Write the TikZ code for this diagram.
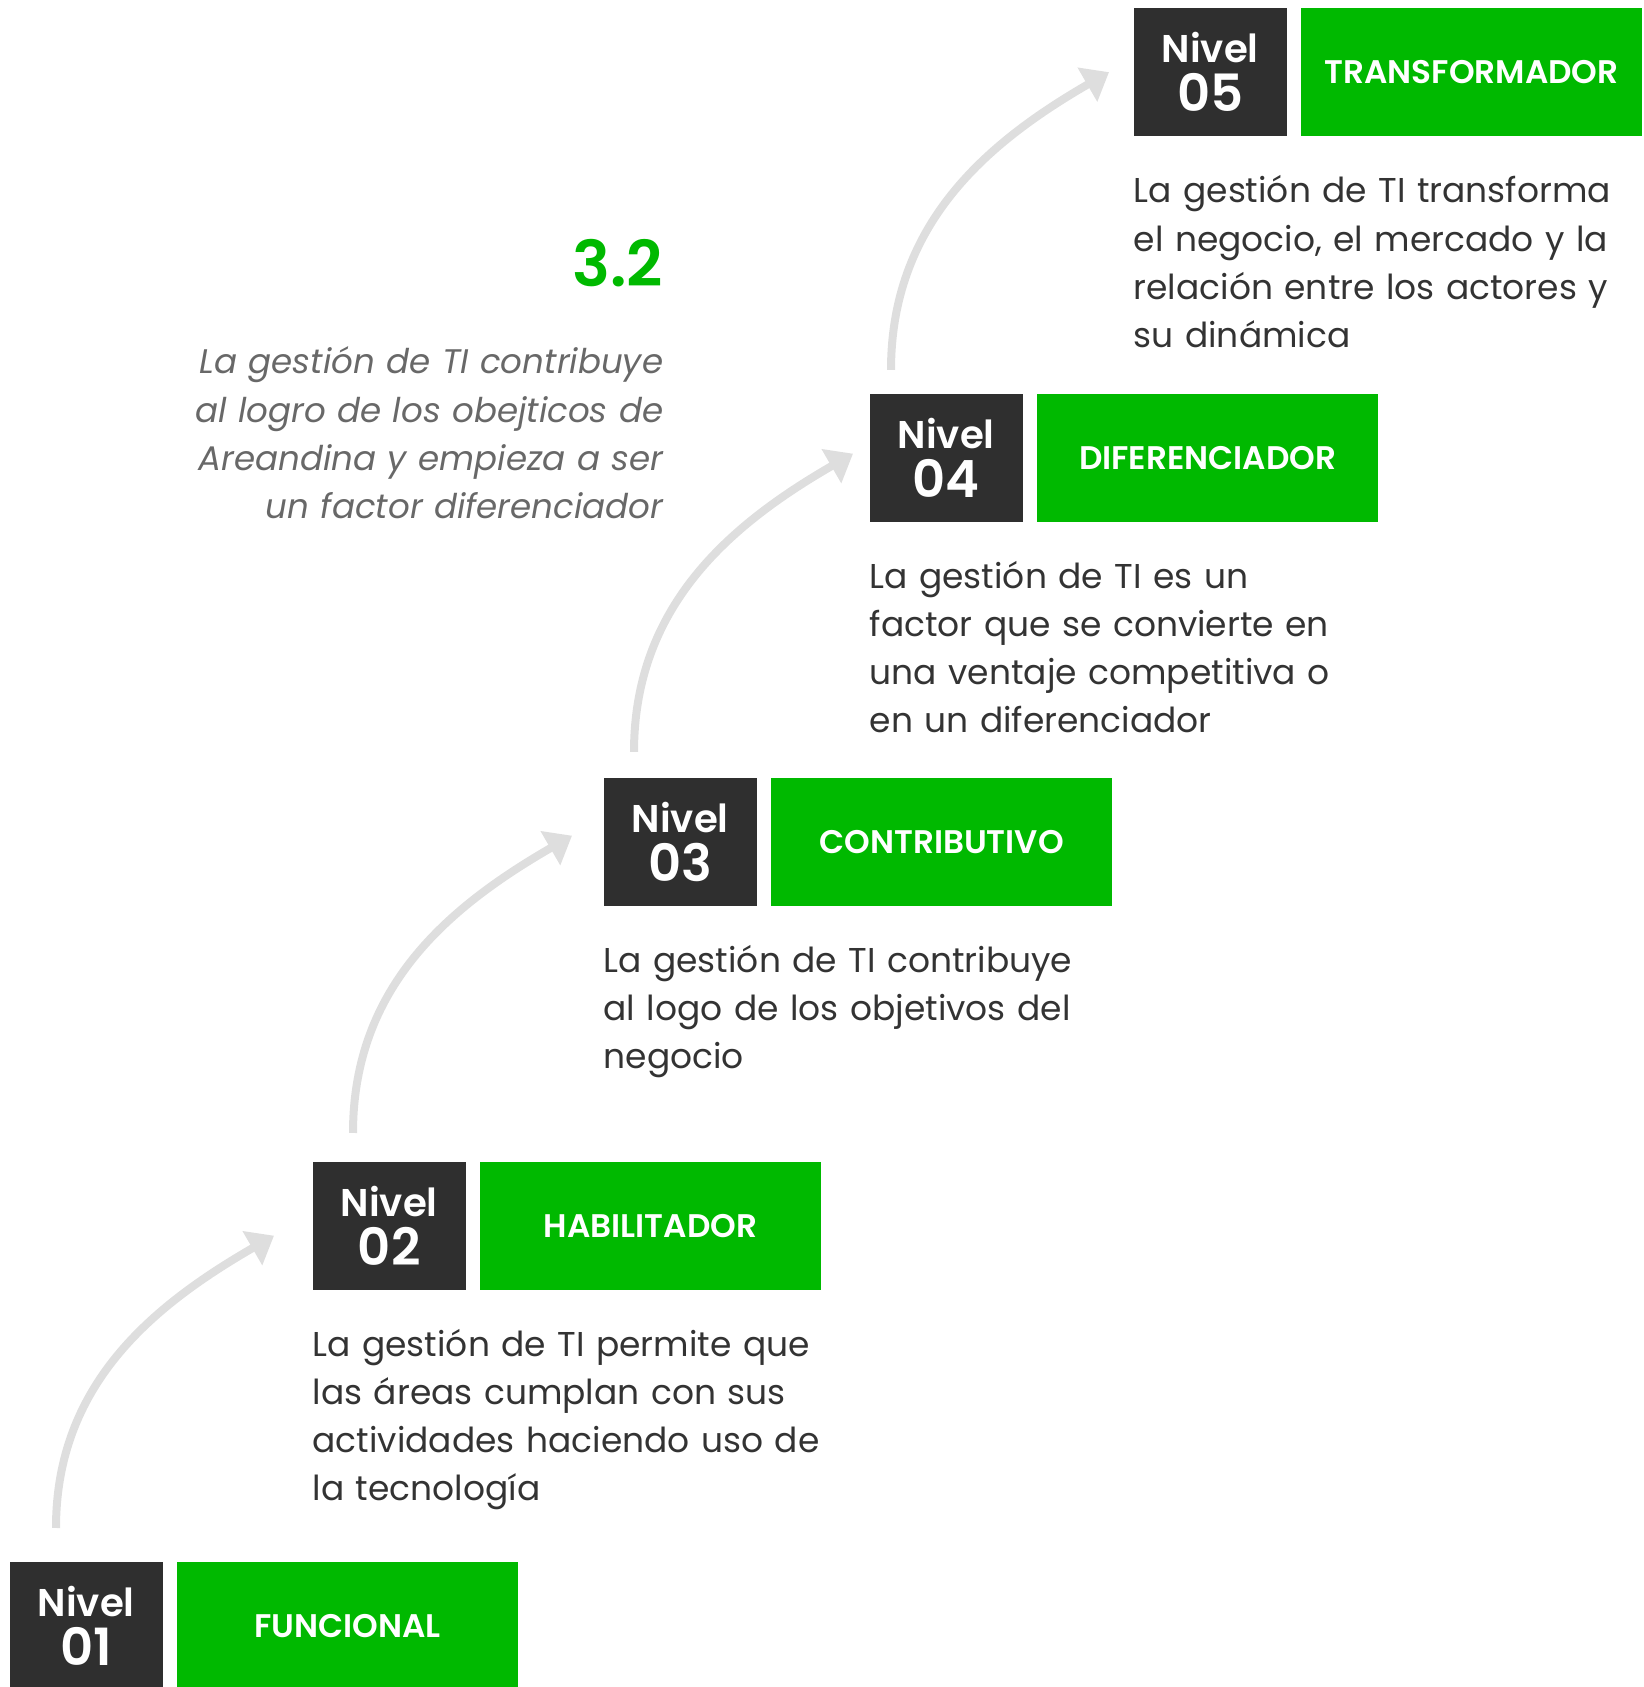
\documentclass[tikz,border=0pt]{standalone}
\usepackage{fontspec}
\setmainfont{Poppins}
\newfontfamily\medio{Poppins SemiBold}
\usepackage{tikz}
\usetikzlibrary{arrows.meta,positioning}
\definecolor{verde}{RGB}{0,185,0}
\definecolor{oscuro}{RGB}{47,47,47}
\definecolor{texto}{RGB}{51,51,51}
\definecolor{gris}{RGB}{104,104,104}
\definecolor{flechagris}{RGB}{222,222,222}

\begin{document}
\begin{tikzpicture}[>={Triangle[length=0.25cm,width=0.38cm]},
  nivel/.style={fill=oscuro,text=white,minimum width=1.53cm,minimum height=1.28cm,inner sep=0pt,anchor=north west,align=center,font=\medio\fontsize{11}{14}\selectfont},
  etapa/.style={fill=verde,text=white,minimum width=3.41cm,minimum height=1.28cm,inner sep=0pt,font=\medio\fontsize{9.3}{11}\selectfont},
  desc/.style={text=texto,anchor=base west,inner sep=0pt,text width=6cm,align=left,font=\fontsize{9.8}{13.7}\selectfont},
  flecha/.style={->,draw=flechagris,line width=0.08cm}]
\useasboundingbox (0,0) rectangle (16.43,16.87);

\node[nivel] (n1) at (0.09,1.26) {Nivel\\{\fontsize{14.6}{14}\selectfont 01}};
\node[etapa,right=0.13cm of n1] (e1) {FUNCIONAL};

\node[nivel] (n2) at (3.12,5.26) {Nivel\\{\fontsize{14.6}{14}\selectfont 02}};
\node[etapa,right=0.13cm of n2] (e2) {HABILITADOR};
\node[desc] (d2) at ([yshift=-0.66cm]n2.south west) {La gestión de TI permite que\\las áreas cumplan con sus\\actividades haciendo uso de\\la tecnología};

\node[nivel] (n3) at (6.03,9.10) {Nivel\\{\fontsize{14.6}{14}\selectfont 03}};
\node[etapa,right=0.13cm of n3] (e3) {CONTRIBUTIVO};
\node[desc] (d3) at ([yshift=-0.66cm]n3.south west) {La gestión de TI contribuye\\al logo de los objetivos del\\negocio};

\node[nivel] (n4) at (8.69,12.94) {Nivel\\{\fontsize{14.6}{14}\selectfont 04}};
\node[etapa,right=0.13cm of n4] (e4) {DIFERENCIADOR};
\node[desc] (d4) at ([yshift=-0.66cm]n4.south west) {La gestión de TI es un\\factor que se convierte en\\una ventaje competitiva o\\en un diferenciador};

\node[nivel] (n5) at (11.33,16.795) {Nivel\\{\fontsize{14.6}{14}\selectfont 05}};
\node[etapa,right=0.13cm of n5] (e5) {TRANSFORMADOR};
\node[desc] (d5) at ([yshift=-0.66cm]n5.south west) {La gestión de TI transforma\\el negocio, el mercado y la\\relación entre los actores y\\su dinámica};

\node[anchor=base east,inner sep=0pt,text=verde,font=\medio\fontsize{18}{20}\selectfont] (sec) at (6.64,14.00) {3.2};
\node[anchor=base east,inner sep=0pt,text=gris,text width=5cm,align=right,font=\itshape\fontsize{9.7}{13.7}\selectfont] (resumen) at (6.64,13.13) {La gestión de TI contribuye\\al logro de los obejticos de\\Areandina y empieza a ser\\un factor diferenciador};

\draw[flecha] ([shift={(0.47,0.33)}]n1.north west) to[out=90,in=210] ([shift={(-0.38,-0.10)}]n2.west);
\draw[flecha] ([shift={(0.41,0.28)}]n2.north west) to[out=90,in=210] ([shift={(-0.31,0.06)}]n3.west);
\draw[flecha] ([shift={(0.31,0.25)}]n3.north west) to[out=90,in=210] ([shift={(-0.16,0.04)}]n4.west);
\draw[flecha] ([shift={(0.22,0.23)}]n4.north west) to[out=90,in=210] ([shift={(-0.24,0)}]n5.west);
\end{tikzpicture}
\end{document}
